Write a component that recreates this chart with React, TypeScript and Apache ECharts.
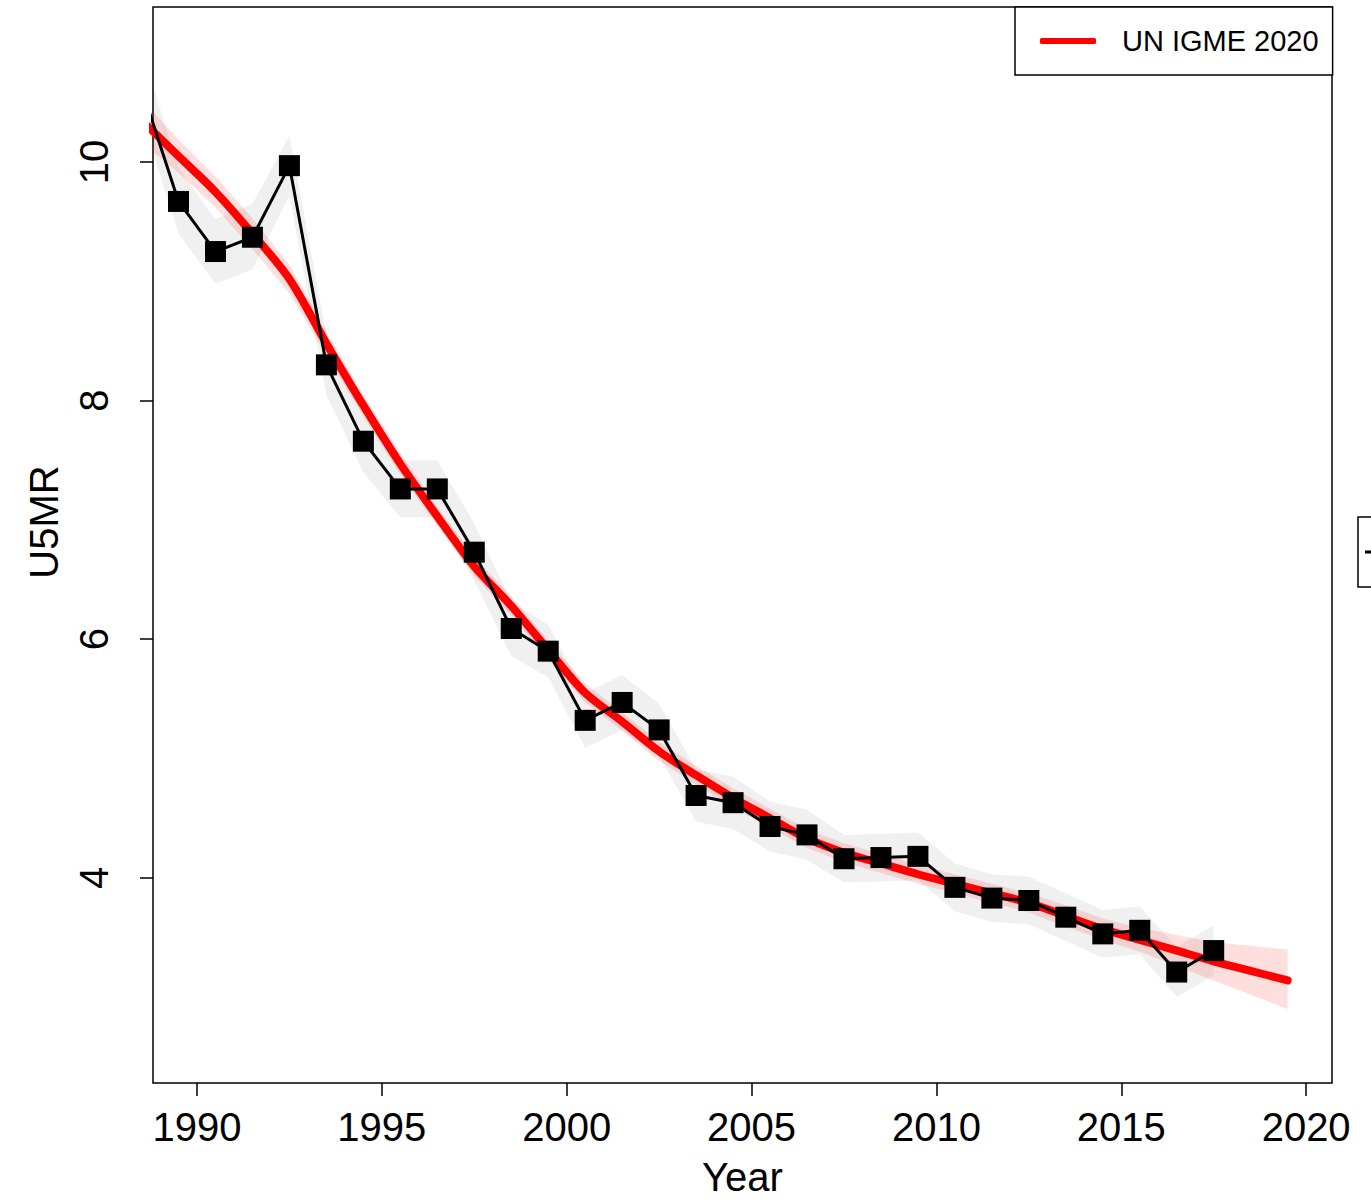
import React, { useEffect, useRef } from "react";
import * as echarts from "echarts";

// Observed data (black squares) and its grey uncertainty band
const dataYears = [1988.5, 1989.5, 1990.5, 1991.5, 1992.5, 1993.5, 1994.5, 1995.5, 1996.5, 1997.5, 1998.5, 1999.5, 2000.5, 2001.5, 2002.5, 2003.5, 2004.5, 2005.5, 2006.5, 2007.5, 2008.5, 2009.5, 2010.5, 2011.5, 2012.5, 2013.5, 2014.5, 2015.5, 2016.5, 2017.5];
const u5mr = [10.62, 9.67, 9.25, 9.37, 9.97, 8.30, 7.66, 7.26, 7.26, 6.73, 6.09, 5.90, 5.32, 5.47, 5.24, 4.69, 4.63, 4.43, 4.36, 4.16, 4.17, 4.18, 3.92, 3.83, 3.81, 3.67, 3.53, 3.56, 3.21, 3.39];
const dataUpper = [10.95, 9.95, 9.52, 9.65, 10.22, 8.55, 7.92, 7.50, 7.50, 6.97, 6.32, 6.12, 5.55, 5.70, 5.46, 4.91, 4.85, 4.64, 4.57, 4.36, 4.37, 4.38, 4.12, 4.03, 4.01, 3.87, 3.73, 3.76, 3.42, 3.60];
const dataLower = [10.38, 9.40, 8.98, 9.10, 9.72, 8.05, 7.40, 7.02, 7.02, 6.49, 5.86, 5.68, 5.09, 5.24, 5.02, 4.47, 4.41, 4.22, 4.15, 3.96, 3.97, 3.98, 3.72, 3.63, 3.61, 3.47, 3.33, 3.36, 3.00, 3.18];

// UN IGME 2020 estimate (red) and its band
const fitYears = [1988.5, 1989.5, 1990.5, 1991.5, 1992.5, 1993.5, 1994.5, 1995.5, 1996.5, 1997.5, 1998.5, 1999.5, 2000.5, 2001.5, 2002.5, 2003.5, 2004.5, 2005.5, 2006.5, 2007.5, 2008.5, 2009.5, 2010.5, 2011.5, 2012.5, 2013.5, 2014.5, 2015.5, 2016.5, 2017.5, 2018.5, 2019.5];
const fitMedian = [10.35, 10.05, 9.75, 9.40, 9.02, 8.48, 7.96, 7.47, 7.03, 6.61, 6.28, 5.91, 5.55, 5.31, 5.06, 4.86, 4.67, 4.50, 4.33, 4.21, 4.12, 4.03, 3.95, 3.87, 3.79, 3.68, 3.57, 3.48, 3.39, 3.30, 3.22, 3.14];
const fitUpper = [10.53, 10.19, 9.88, 9.53, 9.14, 8.58, 8.05, 7.56, 7.11, 6.69, 6.36, 5.99, 5.63, 5.39, 5.14, 4.94, 4.75, 4.58, 4.41, 4.29, 4.20, 4.11, 4.03, 3.95, 3.87, 3.77, 3.66, 3.58, 3.52, 3.46, 3.43, 3.40];
const fitLower = [10.17, 9.91, 9.62, 9.27, 8.90, 8.38, 7.87, 7.38, 6.95, 6.53, 6.20, 5.83, 5.47, 5.23, 4.98, 4.78, 4.59, 4.42, 4.25, 4.13, 4.04, 3.95, 3.87, 3.79, 3.71, 3.59, 3.48, 3.38, 3.26, 3.14, 3.02, 2.90];

const xTicks = [1990, 1995, 2000, 2005, 2010, 2015, 2020];
const yTicks = [4, 6, 8, 10];
const legendName = "UN IGME 2020";

const FONT = "'Liberation Sans', Arial, Helvetica, sans-serif";

function bandSeries(name: string, xs: number[], lo: number[], hi: number[], fill: string) {
  return {
    type: "custom",
    name,
    clip: true,
    silent: true,
    data: xs.map((x, i) => [x, lo[i], hi[i]]),
    encode: { x: 0, y: [1, 2] },
    renderItem: (params: any, api: any) => {
      if (params.dataIndex !== 0) return { type: "group", children: [] };
      const pts: number[][] = [];
      for (let i = 0; i < xs.length; i++) pts.push(api.coord([xs[i], hi[i]]));
      for (let i = xs.length - 1; i >= 0; i--) pts.push(api.coord([xs[i], lo[i]]));
      return { type: "polygon", shape: { points: pts }, style: { fill, stroke: "none" } };
    },
  };
}

export default function App() {
  const ref = useRef<HTMLDivElement>(null);
  useEffect(() => {
    document.body.style.margin = "0";
    const chart = echarts.init(ref.current!, undefined, { renderer: "svg" });
    chart.setOption({
      animation: false,
      backgroundColor: "#ffffff",
      textStyle: { fontFamily: FONT },
      grid: {
        left: 153,
        top: 7,
        width: 1179,
        height: 1076,
        show: true,
        borderColor: "#000",
        borderWidth: 1.5,
        backgroundColor: "transparent",
        outerBoundsMode: "none",
      },
      xAxis: {
        type: "value",
        min: 1988.81,
        max: 2020.7,
        splitLine: { show: false },
        axisLine: { show: false },
        axisTick: { show: true, length: 13, lineStyle: { color: "#000", width: 1.5 }, customValues: xTicks },
        axisLabel: { color: "#000", fontSize: 40, fontFamily: FONT, margin: 24, customValues: xTicks, formatter: (v: number) => String(v) },
        name: "Year",
        nameLocation: "middle",
        nameGap: 74,
        nameTextStyle: { color: "#000", fontSize: 40, fontFamily: FONT },
      },
      yAxis: {
        type: "value",
        min: 2.28,
        max: 11.3,
        splitLine: { show: false },
        axisLine: { show: false },
        axisTick: { show: true, length: 13, lineStyle: { color: "#000", width: 1.5 }, customValues: yTicks },
        axisLabel: { color: "#000", fontSize: 40, fontFamily: FONT, margin: 39, rotate: 90, customValues: yTicks, formatter: (v: number) => String(v) },
      },
      legend: {
        left: 1015,
        top: 7,
        orient: "horizontal",
        selectedMode: false,
        backgroundColor: "#fff",
        borderColor: "#000",
        borderWidth: 1.5,
        borderRadius: 0,
        padding: [17, 14, 17, 25],
        itemWidth: 56,
        itemHeight: 6,
        data: [{ name: legendName, icon: "roundRect", itemStyle: { color: "#ff0000" } }],
        textStyle: { color: "#000", fontSize: 29, fontFamily: FONT, padding: [0, 0, 0, 21], lineHeight: 34 },
      },
      graphic: [
        {
          type: "text",
          x: 44,
          y: 522,
          rotation: Math.PI / 2,
          style: { text: "U5MR", font: `40px ${FONT}`, fill: "#000", align: "center", verticalAlign: "middle" },
        },
        {
          type: "rect",
          shape: { x: 1358, y: 517, width: 120, height: 70 },
          style: { fill: "#fff", stroke: "#000", lineWidth: 1.5 },
        },
        {
          type: "line",
          shape: { x1: 1365, y1: 552, x2: 1420, y2: 552 },
          style: { stroke: "#000", lineWidth: 3 },
        },
      ],
      series: [
        bandSeries("data band", dataYears, dataLower, dataUpper, "rgba(0,0,0,0.06)"),
        bandSeries("fit band", fitYears, fitLower, fitUpper, "rgba(255,0,0,0.13)"),
        {
          type: "line",
          name: legendName,
          data: fitYears.map((x, i) => [x, fitMedian[i]]),
          smooth: 0.3,
          symbol: "none",
          clip: true,
          lineStyle: { color: "#ff0000", width: 8, cap: "round", join: "round" },
          itemStyle: { color: "#ff0000" },
        },
        {
          type: "line",
          name: "data",
          data: dataYears.map((x, i) => [x, u5mr[i]]),
          symbol: "rect",
          symbolSize: 21,
          showAllSymbol: true,
          clip: true,
          lineStyle: { color: "#000", width: 3 },
          itemStyle: { color: "#000" },
        },
      ],
    });
    return () => chart.dispose();
  }, []);
  return <div ref={ref} style={{ width: 1371, height: 1203 }} />;
}
